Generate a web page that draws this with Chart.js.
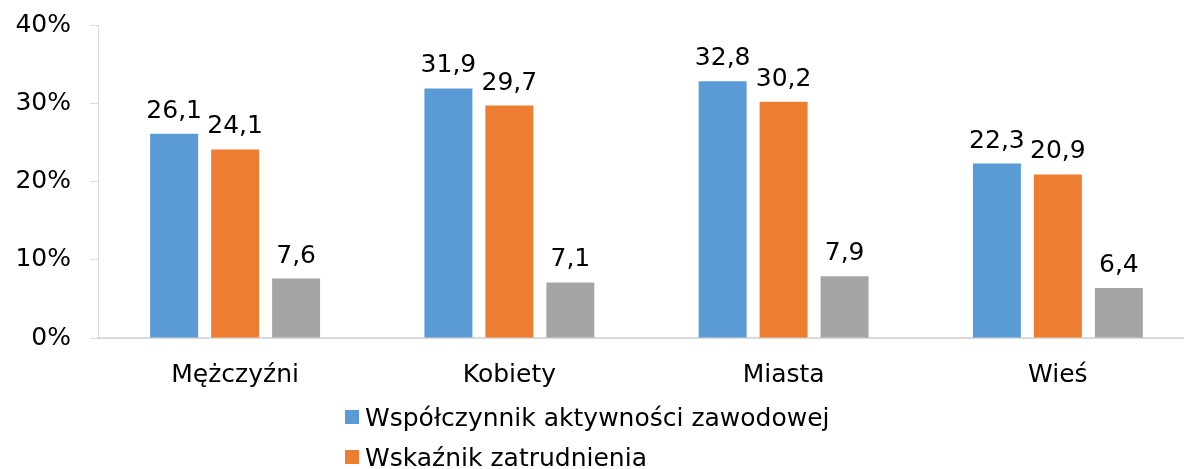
<!DOCTYPE html>
<html lang="pl">
<head>
<meta charset="utf-8">
<script src="https://cdn.jsdelivr.net/npm/chart.js@4"></script>
<style>
  html, body { margin: 0; padding: 0; background: #fff; overflow: hidden; width: 1184px; height: 469px; }
  #wrap { position: absolute; left: 0; top: 0; width: 1195px; height: 412px; }
  #legend { position: absolute; left: 345px; top: 398px; font-family: "DejaVu Sans", Verdana, sans-serif; font-size: 25px; color: #000; }
  #legend div { height: 40px; line-height: 40px; white-space: nowrap; }
  #legend span { display: inline-block; width: 14px; height: 14px; margin-right: 6px; vertical-align: middle; position: relative; top: -2px; }
</style>
</head>
<body>
<div id="wrap"><canvas id="chart"></canvas></div>
<div id="legend"></div>
<script>
const categories = ['Mężczyźni', 'Kobiety', 'Miasta', 'Wieś'];
const seriesNames = ['Współczynnik aktywności zawodowej', 'Wskaźnik zatrudnienia', 'Stopa bezrobocia'];
const activityRate = [26.1, 31.9, 32.8, 22.3];
const employmentRate = [24.1, 29.7, 30.2, 20.9];
const unemploymentRate = [7.6, 7.1, 7.9, 6.4];
const yTicks = [0, 10, 20, 30, 40];
const colors = ['#5b9bd5', '#ed7d31', '#a5a5a5'];

const font = { family: '"DejaVu Sans", Verdana, sans-serif', size: 25 };

const valueLabels = {
    id: 'valueLabels',
    afterDatasetsDraw(chart) {
        const ctx = chart.ctx;
        ctx.save();
        ctx.font = '25px "DejaVu Sans", Verdana, sans-serif';
        ctx.fillStyle = '#000';
        ctx.textAlign = 'center';
        ctx.textBaseline = 'alphabetic';
        chart.data.datasets.forEach((ds, i) => {
            chart.getDatasetMeta(i).data.forEach((bar, j) => {
                const txt = ds.data[j].toFixed(1).replace('.', ',');
                ctx.fillText(txt, bar.x, bar.y - 16);
            });
        });
        ctx.restore();
    }
};

const datasets = [activityRate, employmentRate, unemploymentRate].map((d, i) => ({
    label: seriesNames[i],
    data: d,
    backgroundColor: colors[i],
    categoryPercentage: 0.667,
    barPercentage: 0.787
}));

const ctx = document.getElementById('chart').getContext('2d');
const myChart = new Chart(ctx, {
    type: 'bar',
    data: { labels: categories, datasets: datasets },
    options: {
        responsive: true,
        maintainAspectRatio: false,
        animation: false,
        layout: { padding: { top: 25, left: 0, right: 0, bottom: 0 } },
        plugins: { legend: { display: false }, tooltip: { enabled: false } },
        scales: {
            x: {
                grid: { drawOnChartArea: false, drawTicks: false },
                border: { color: '#d9d9d9', width: 2 },
                ticks: { color: '#000', font: font, padding: 22 }
            },
            y: {
                min: 0,
                max: 40,
                afterBuildTicks: scale => { scale.ticks = yTicks.map(v => ({ value: v })); },
                afterFit: scale => {
                    scale.width = 98;
                    scale.paddingTop = 0;
                    scale.paddingBottom = 0;
                },
                grid: { drawOnChartArea: false, drawTicks: true, tickLength: 8, color: '#d9d9d9' },
                border: { color: '#d9d9d9', width: 1 },
                ticks: { color: '#000', font: font, padding: 19, callback: v => v + '%' }
            }
        }
    },
    plugins: [valueLabels]
});

document.getElementById('legend').innerHTML = datasets.map(ds =>
    '<div><span style="background:' + ds.backgroundColor + '"></span>' + ds.label + '</div>'
).join('');
</script>
</body>
</html>
